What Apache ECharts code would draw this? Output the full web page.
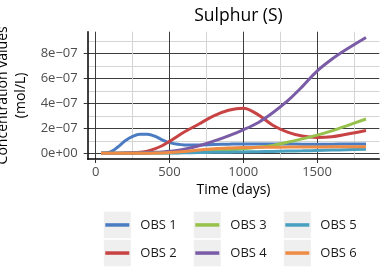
<!DOCTYPE html>
<html>
<head>
<meta charset="utf-8">
<script src="https://cdn.jsdelivr.net/npm/echarts@6/dist/echarts.min.js"></script>
<style>
html,body{margin:0;padding:0;background:#fff;}
#c{width:384px;height:268px;}
</style>
</head>
<body>
<div id="c"></div>
<script>
// ---- data ----
const title = 'Sulphur (S)';
const xTitle = 'Time (days)';
const yTitle = 'Concentration values\n(mol/L)';
const seriesNames = ['OBS 1', 'OBS 2', 'OBS 3', 'OBS 4', 'OBS 5', 'OBS 6'];
const seriesColors = ['#4b7cc2', '#c84343', '#96c14a', '#7a5ca6', '#4aa0bf', '#ee8b45'];
const times = [36, 100, 150, 200, 250, 300, 350, 400, 450, 500, 600, 700, 800, 900, 1000, 1100, 1200, 1300, 1400, 1500, 1600, 1700, 1832];
const obs1 = [0, 0.1e-7, 0.5e-7, 1.0e-7, 1.35e-7, 1.52e-7, 1.52e-7, 1.38e-7, 1.08e-7, 0.85e-7, 0.67e-7, 0.66e-7, 0.70e-7, 0.73e-7, 0.75e-7, 0.75e-7, 0.75e-7, 0.74e-7, 0.73e-7, 0.73e-7, 0.73e-7, 0.74e-7, 0.75e-7];
const obs2 = [0, 0, 0, 0.01e-7, 0.03e-7, 0.08e-7, 0.17e-7, 0.35e-7, 0.6e-7, 0.95e-7, 1.7e-7, 2.35e-7, 3.0e-7, 3.45e-7, 3.62e-7, 3.1e-7, 2.25e-7, 1.7e-7, 1.38e-7, 1.27e-7, 1.32e-7, 1.52e-7, 1.82e-7];
const obs3 = [0, 0, 0, 0, 0.005e-7, 0.01e-7, 0.01e-7, 0.015e-7, 0.02e-7, 0.03e-7, 0.06e-7, 0.1e-7, 0.16e-7, 0.25e-7, 0.35e-7, 0.47e-7, 0.62e-7, 0.88e-7, 1.15e-7, 1.45e-7, 1.8e-7, 2.2e-7, 2.75e-7];
const obs4 = [0, 0, 0, 0.01e-7, 0.02e-7, 0.03e-7, 0.05e-7, 0.07e-7, 0.1e-7, 0.15e-7, 0.32e-7, 0.6e-7, 0.97e-7, 1.4e-7, 1.88e-7, 2.45e-7, 3.25e-7, 4.2e-7, 5.35e-7, 6.6e-7, 7.55e-7, 8.35e-7, 9.3e-7];
const obs5 = [0, 0, 0, 0, 0, 0, 0.005e-7, 0.01e-7, 0.015e-7, 0.02e-7, 0.03e-7, 0.05e-7, 0.07e-7, 0.08e-7, 0.1e-7, 0.12e-7, 0.14e-7, 0.17e-7, 0.19e-7, 0.22e-7, 0.25e-7, 0.28e-7, 0.32e-7];
const obs6 = [0, 0, 0, 0, 0, 0, 0, 0.01e-7, 0.02e-7, 0.05e-7, 0.14e-7, 0.26e-7, 0.36e-7, 0.42e-7, 0.46e-7, 0.47e-7, 0.48e-7, 0.49e-7, 0.5e-7, 0.5e-7, 0.51e-7, 0.51e-7, 0.52e-7];
const seriesValues = [obs1, obs2, obs3, obs4, obs5, obs6];
const xMajorTicks = [0, 500, 1000, 1500];
const xMinorTicks = [250, 750, 1250, 1750];
const yMajorTicks = [0, 2e-7, 4e-7, 6e-7, 8e-7];
const yMinorTicks = [1e-7, 3e-7, 5e-7, 7e-7, 9e-7];
const xRange = [-54, 1922];
const yRange = [-0.465e-7, 9.765e-7];

// ---- chart ----
const FONT = 'Open Sans';
function sci(v) {
  if (v === 0) return '0e+00';
  const e = Math.floor(Math.log10(Math.abs(v)) + 1e-9);
  const m = Math.round(v / Math.pow(10, e));
  return m + 'e' + (e < 0 ? '\u2212' : '+') + String(Math.abs(e)).padStart(2, '0');
}
const chart = echarts.init(document.getElementById('c'), null, {renderer: 'canvas'});

const legendCols = [103.8, 193.8, 283.8];
const legendRows = [211.7, 239.8];
const legends = [];
const graphics = [];
seriesNames.forEach((n, i) => {
  const col = Math.floor(i / 2), row = i % 2;
  const cx = legendCols[col], cy = legendRows[row];
  graphics.push({type: 'rect', left: cx, top: cy, z: 0, shape: {width: 27, height: 26.5}, style: {fill: '#efefef'}});
  legends.push({
    data: [n], left: cx + 1.5, top: cy + 13.25 - 7, padding: 0, orient: 'horizontal',
    icon: 'rect', itemWidth: 24, itemHeight: 3.5, selectedMode: false,
    textStyle: {fontFamily: FONT, fontSize: 13, color: '#1a1a1a', lineHeight: 14, padding: [0, 0, 0, 6]}
  });
});

const axisLabelStyle = {fontFamily: FONT, fontSize: 13, color: '#4d4d4d'};
chart.setOption({
  animation: false,
  backgroundColor: '#fff',
  title: {text: title, left: 233.5, top: 2, textAlign: 'center',
    textStyle: {fontFamily: FONT, fontSize: 17.5, fontWeight: 'normal', color: '#000'}},
  grid: {left: 87.7, right: 4.7, top: 31.7, bottom: 109, containLabel: false, outerBoundsMode: 'none'},
  legend: legends,
  graphic: graphics,
  xAxis: [{
    type: 'value', min: xRange[0], max: xRange[1],
    name: xTitle, nameLocation: 'middle', nameGap: 24,
    nameTextStyle: {fontFamily: FONT, fontSize: 14, color: '#000'},
    axisLine: {show: true, onZero: false, lineStyle: {color: '#000', width: 1.5}},
    axisTick: {show: true, length: 4, customValues: xMajorTicks, lineStyle: {color: '#333', width: 1}},
    axisLabel: {customValues: xMajorTicks, margin: 7, formatter: v => String(v), ...axisLabelStyle},
    splitLine: {show: true, lineStyle: {color: '#3d3d3d', width: 1}}
  }, {
    type: 'value', min: xRange[0], max: xRange[1], position: 'bottom',
    axisLine: {show: false}, axisTick: {show: false, customValues: xMinorTicks},
    axisLabel: {show: false, customValues: xMinorTicks},
    splitLine: {show: true, lineStyle: {color: '#d4d4d4', width: 1}}
  }],
  yAxis: [{
    type: 'value', min: yRange[0], max: yRange[1],
    name: yTitle, nameLocation: 'middle', nameGap: 52, nameRotate: 90,
    nameTextStyle: {fontFamily: FONT, fontSize: 14, color: '#000', lineHeight: 18},
    axisLine: {show: true, onZero: false, lineStyle: {color: '#000', width: 1.5}},
    axisTick: {show: true, length: 4, customValues: yMajorTicks, lineStyle: {color: '#333', width: 1}},
    axisLabel: {customValues: yMajorTicks, margin: 10, formatter: sci, ...axisLabelStyle},
    splitLine: {show: true, lineStyle: {color: '#3d3d3d', width: 1}}
  }, {
    type: 'value', min: yRange[0], max: yRange[1], position: 'left',
    axisLine: {show: false}, axisTick: {show: false, customValues: yMinorTicks},
    axisLabel: {show: false, customValues: yMinorTicks},
    splitLine: {show: true, lineStyle: {color: '#d4d4d4', width: 1}}
  }],
  series: seriesNames.map((n, i) => ({
    name: n, type: 'line', smooth: 0.35, showSymbol: false, symbol: 'none',
    xAxisIndex: 0, yAxisIndex: 0,
    color: seriesColors[i],
    lineStyle: {width: 3, color: seriesColors[i], cap: 'butt'},
    data: times.map((t, k) => [t, seriesValues[i][k]])
  }))
});
</script>
</body>
</html>
